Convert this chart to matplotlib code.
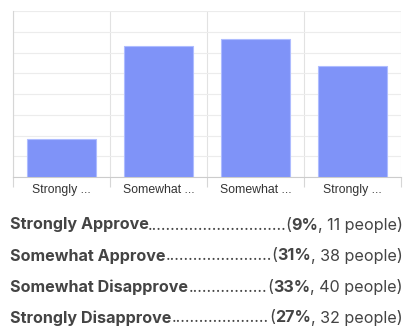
import matplotlib.pyplot as plt
import numpy as np

categorias = ["Strongly Approve", "Somewhat Approve", "Somewhat Disapprove", "Strongly Disapprove"]
rotulos_curtos = ["Strongly ...", "Somewhat ...", "Somewhat ...", "Strongly ..."]
pessoas = [11, 38, 40, 32]
percentuais = [9, 31, 33, 27]

W, H = 414, 335
fig = plt.figure(figsize=(W / 100, H / 100), dpi=100)
ax = fig.add_axes([13 / W, (H - 177) / H, 388 / W, 166 / H])

x = np.arange(len(categorias))
ax.bar(x, pessoas, width=0.71, color="#7f93f8", edgecolor="#aebcff", linewidth=0.8, zorder=3)

ax.set_xlim(-0.5, 3.5)
ax.set_ylim(0, 48)
ax.set_yticks(np.arange(0, 49, 6))
ax.yaxis.grid(True, color="#ececec", linewidth=0.8, zorder=0)
ax.tick_params(axis="y", length=0, labelleft=False)

ax.set_xticks(x)
ax.set_xticklabels(rotulos_curtos, fontsize=8.8, color="#333333", family="Liberation Sans")
ax.tick_params(axis="x", which="major", length=0, pad=5)
ax.set_xticks(np.arange(-0.5, 4, 1), minor=True)
ax.tick_params(axis="x", which="minor", length=7.5, color="#d6d6d6", width=0.8)
ax.xaxis.grid(True, which="minor", color="#e2e2e2", linewidth=0.8, zorder=0)

for lado in ["top", "right"]:
    ax.spines[lado].set_visible(False)
ax.spines["left"].set_color("#d6d6d6")
ax.spines["bottom"].set_color("#cccccc")
ax.spines["left"].set_linewidth(0.8)
ax.spines["bottom"].set_linewidth(0.8)

# lista com pontilhado
fig.canvas.draw()
renderer = fig.canvas.get_renderer()
cor = "#444444"
fs = 11.6
fam = "Inter"
x_esq, x_dir = 10, 403
linhas_y = [225, 256, 287, 318]


def largura(t):
    return t.get_window_extent(renderer).width


ponto = fig.text(0, 0, "." * 20, fontsize=fs, color=cor, family=fam)
wp = largura(ponto) / 20
ponto.remove()

for nome, pct, n, yy in zip(categorias, percentuais, pessoas, linhas_y):
    yf = 1 - yy / H
    t1 = fig.text(x_esq / W, yf, nome, fontsize=fs, fontweight="bold", color=cor,
                  family=fam, va="center", ha="left")
    t4 = fig.text(x_dir / W, yf, f", {n} people)", fontsize=fs, color=cor,
                  family=fam, va="center", ha="right")
    xr = x_dir - largura(t4)
    t3 = fig.text(xr / W, yf, f"{pct}%", fontsize=fs, fontweight="bold", color=cor,
                  family=fam, va="center", ha="right")
    xr -= largura(t3)
    t2 = fig.text(xr / W, yf, "(", fontsize=fs, color=cor,
                  family=fam, va="center", ha="right")
    xr -= largura(t2)
    xl = x_esq + largura(t1)
    nd = max(int(round((xr - xl) / wp)), 0)
    fig.text((xl + xr) / 2 / W, yf, "." * nd, fontsize=fs, color=cor, family=fam,
             va="center", ha="center")

fig.savefig("out.png", dpi=100)
